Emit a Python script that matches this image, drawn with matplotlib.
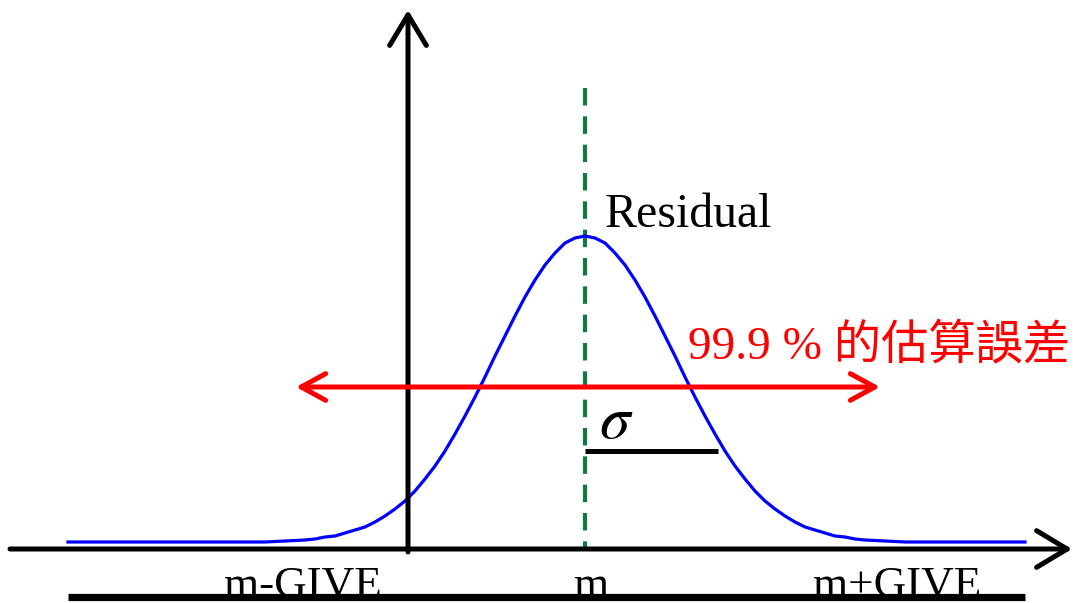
import numpy as np
import matplotlib
matplotlib.use("Agg")
import matplotlib.pyplot as plt

matplotlib.rcParams["mathtext.fontset"] = "stix"
SERIF = ["Liberation Serif", "Noto Sans CJK TC", "DejaVu Serif"]

# ============ data ============
# residual distribution curve: offset from m, height above baseline
curve_x = [-5.17, -3.20, -3.00, -2.90, -2.80, -2.70, -2.60, -2.50, -2.40, -2.30,
           -2.20, -2.10, -2.00, -1.90, -1.80, -1.70, -1.60, -1.50, -1.40, -1.30,
           -1.20, -1.10, -1.00, -0.90, -0.80, -0.70, -0.60, -0.50, -0.40, -0.30,
           -0.20, -0.10, 0.00, 0.10, 0.20, 0.30, 0.40, 0.50, 0.60, 0.70,
           0.80, 0.90, 1.00, 1.10, 1.20, 1.30, 1.40, 1.50, 1.60, 1.70,
           1.80, 1.90, 2.00, 2.10, 2.20, 2.30, 2.40, 2.50, 2.60, 2.70,
           2.80, 2.90, 3.00, 3.20, 4.40]
curve_y = [0.00, 0.00, 0.01, 0.015, 0.02, 0.03, 0.05, 0.06, 0.09, 0.12,
           0.15, 0.20, 0.26, 0.33, 0.41, 0.51, 0.63, 0.76, 0.91, 1.08,
           1.26, 1.45, 1.65, 1.86, 2.06, 2.26, 2.45, 2.62, 2.77, 2.89,
           2.99, 3.04, 3.06, 3.04, 2.99, 2.89, 2.77, 2.62, 2.45, 2.26,
           2.06, 1.86, 1.65, 1.45, 1.26, 1.08, 0.91, 0.76, 0.63, 0.51,
           0.41, 0.33, 0.26, 0.20, 0.15, 0.12, 0.09, 0.06, 0.05, 0.03,
           0.02, 0.015, 0.01, 0.00, 0.00]

m_center = 0.0
sigma_len = 1.33            # length of the sigma bar
range_lo, range_hi = -2.89, 2.95   # 99.9 % range arrow

tick_labels = ["m-GIVE", "m", "m+GIVE"]
tick_pos = [-2.82, 0.07, 3.12]

# ============ figure ============
fig = plt.figure(figsize=(10.73, 6.03), dpi=100)
ax = fig.add_axes([0, 0, 1, 1])
ax.set_xlim(-5.85, 4.88)
ax.set_ylim(-0.61, 5.42)
ax.axis("off")

# gaussian curve
ax.plot(curve_x, curve_y, color="#0000ff", lw=2.3, zorder=3)

# axes with arrows
axis_kw = dict(arrowstyle="->, head_length=1.0, head_width=0.6", lw=3.6,
               color="black", shrinkA=0, shrinkB=0, mutation_scale=22,
               capstyle="round", joinstyle="round")
ax.annotate("", xy=(4.87, -0.07), xytext=(-5.75, -0.07), arrowprops=axis_kw, zorder=4)
ax.annotate("", xy=(-1.77, 5.32), xytext=(-1.77, -0.10), arrowprops=axis_kw, zorder=4)

# residual mean (dashed)
ax.plot([m_center, m_center], [4.54, -0.07], color="#107a3c", lw=3.0,
        dashes=(4.2, 2.6), zorder=2)

# 99.9 % range
ax.annotate("", xy=(range_hi, 1.55), xytext=(range_lo, 1.55),
            arrowprops=dict(arrowstyle="<->, head_length=1.1, head_width=0.6",
                            lw=3.6, color="#ff0000", shrinkA=0, shrinkB=0,
                            mutation_scale=16, capstyle="round",
                            joinstyle="round"), zorder=5)

# sigma bar
ax.plot([m_center, m_center + sigma_len], [0.91, 0.91], color="black",
        lw=3.6, solid_capstyle="butt", zorder=4)
ax.text(0.31, 1.04, r"$\sigma$", fontsize=44, ha="center", va="baseline")

# labels
ax.text(0.20, 3.15, "Residual", family=SERIF, fontsize=34.5, va="baseline")
ax.text(1.03, 1.84, "99.9 % 的估算誤差", family=SERIF, fontsize=34,
        color="#ff0000", va="baseline")

for lab, xp in zip(tick_labels, tick_pos):
    ax.text(xp, -0.55, lab, family=SERIF, fontsize=32.5, ha="center",
            va="baseline", zorder=1)

# bottom bar (covers label bottoms)
ax.plot([curve_x[0], curve_x[-1]], [-0.55, -0.55], color="black", lw=5.2,
        solid_capstyle="butt", zorder=6)

fig.savefig("out.png", dpi=100, facecolor="white")
